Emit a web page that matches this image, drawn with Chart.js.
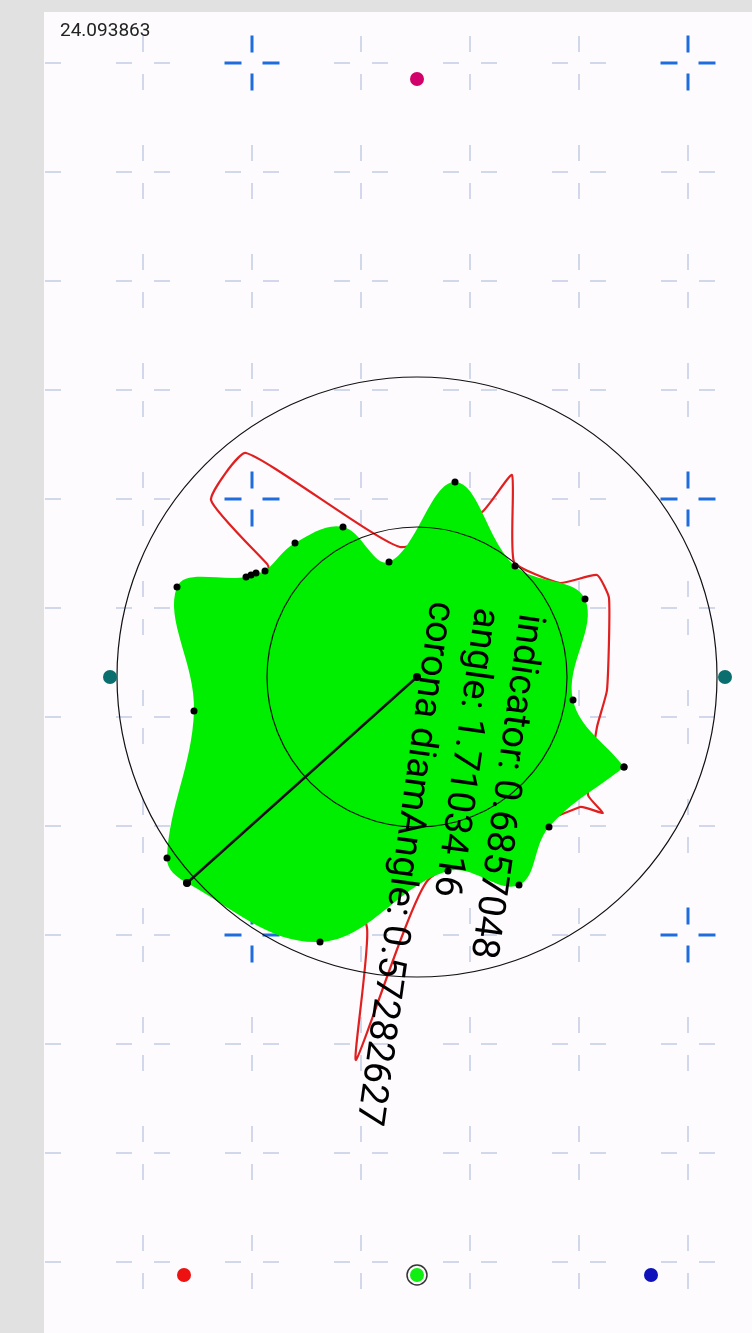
<!DOCTYPE html>
<html><head><meta charset="utf-8">
<script src="https://cdn.jsdelivr.net/npm/chart.js@4"></script>
<style>
html,body{margin:0;padding:0;background:#e1e1e1;width:752px;height:1333px;overflow:hidden}
#wrap{position:absolute;left:44px;top:12px;width:708px;height:1321px;background:#fdfbfd}
canvas{display:block}
</style></head><body>
<div id="wrap"><canvas id="c"></canvas></div>
<script>
// ---- data (chart units) ----
const gridX = [34, 143, 252, 361, 470, 579, 688];
const gridY = [63, 172, 281, 390, 499, 608, 717, 826, 935, 1044, 1153, 1262];
const blueX = [252, 688];
const blueY = [63, 499, 935];

const blobX = [624, 549, 519, 448, 320, 187, 167, 194, 177, 246, 251, 256, 265, 295, 343, 389, 455, 515, 585, 573, 624];
const blobY = [767, 827, 885, 871, 942, 883, 858, 711, 587, 577, 575, 573, 571, 543, 527, 562, 482, 566, 599, 700, 767];

const redX = [268, 211, 246, 400, 482, 512, 514, 560, 597, 609, 607, 597, 588, 603, 580, 428, 356, 367, 300, 268];
const redY = [565, 500, 453, 547, 512, 475, 562, 583, 575, 598, 690, 727, 795, 813, 807, 880, 1060, 928, 700, 565];

const centre = [417, 677];
const needleEnd = [187, 883];
const ringRadii = [300, 150];

const topDot = [417, 79];
const sideDotX = [110, 725];
const sideDotY = 677;
const footX = [184, 417, 651];
const footY = 1275;
const footColors = ['#ee1111', '#11ee11', '#1111bb'];

const cornerValue = '24.093863';
const rotAngle = 1.7103416;
const infoLines = ['indicator: 0.6857048', 'angle: 1.7103416', 'corona diamAngle: 0.57282627'];

// ---- build datasets ----
function arms(xs, ys, horizontal, off) {
  const out = [];
  xs.forEach(cx => ys.forEach(cy => {
    if (horizontal) { out.push({x: cx - off, y: cy}); out.push({x: cx + off, y: cy}); }
    else { out.push({x: cx, y: cy - off}); out.push({x: cx, y: cy + off}); }
  }));
  return out;
}
const blobPts = blobX.map((x, i) => ({x, y: blobY[i]}));
const redPts = redX.map((x, i) => ({x, y: redY[i]}));

const pxPerUnit = c => {
  const s = c.chart.scales.x;
  return s.getPixelForValue(1) - s.getPixelForValue(0);
};

const textPlugin = {
  id: 'texts',
  afterDatasetsDraw(chart) {
    const {ctx, scales: {x, y}} = chart;
    ctx.save();
    ctx.fillStyle = '#222';
    ctx.font = '19px Roboto';
    ctx.textBaseline = 'alphabetic';
    ctx.fillText(cornerValue, x.getPixelForValue(60), y.getPixelForValue(36));
    ctx.translate(x.getPixelForValue(centre[0]), y.getPixelForValue(centre[1]));
    ctx.rotate(rotAngle);
    ctx.fillStyle = '#000';
    ctx.font = '38px Roboto';
    infoLines.forEach((t, i) => ctx.fillText(t, -78, -93 + 45 * i));
    ctx.restore();
  }
};

const faint = 'rgba(175,190,222,0.75)';
const blue = '#1f6ddc';

new Chart(document.getElementById('c'), {
  type: 'scatter',
  data: {
    datasets: [
      {data: arms(gridX, gridY, true, 19), pointStyle: 'line', pointRadius: 8, pointRotation: 0, pointBorderColor: faint, pointBorderWidth: 1.5, order: 20},
      {data: arms(gridX, gridY, false, 19), pointStyle: 'line', pointRadius: 8, pointRotation: 90, pointBorderColor: faint, pointBorderWidth: 1.5, order: 20},
      {data: arms(blueX, blueY, true, 19), pointStyle: 'line', pointRadius: 8.5, pointRotation: 0, pointBorderColor: blue, pointBorderWidth: 3, order: 19},
      {data: arms(blueX, blueY, false, 19), pointStyle: 'line', pointRadius: 8.5, pointRotation: 90, pointBorderColor: blue, pointBorderWidth: 3, order: 19},
      {data: redPts, showLine: true, borderColor: '#e02020', borderWidth: 2.2, tension: 0.15, pointRadius: 0, fill: false, order: 18},
      {data: blobPts, showLine: true, borderWidth: 0, borderColor: 'rgba(0,0,0,0)', backgroundColor: '#00ee00', fill: 'shape', tension: 0.38,
       pointRadius: 3.5, pointBackgroundColor: '#000', pointBorderWidth: 0, order: 17},
      {data: ringRadii.map(() => ({x: centre[0], y: centre[1]})), pointRadius: c => ringRadii[c.dataIndex] * pxPerUnit(c),
       pointBackgroundColor: 'rgba(0,0,0,0)', pointBorderColor: '#111', pointBorderWidth: 1.2, order: 16},
      {data: [{x: centre[0], y: centre[1]}, {x: needleEnd[0], y: needleEnd[1]}], showLine: true, borderColor: '#111', borderWidth: 2.5,
       pointRadius: 4, pointBackgroundColor: '#000', pointBorderWidth: 0, order: 15},
      {data: [{x: topDot[0], y: topDot[1]}], pointRadius: 7, pointBackgroundColor: '#d2006a', pointBorderWidth: 0, order: 14},
      {data: sideDotX.map(x => ({x, y: sideDotY})), pointRadius: 7, pointBackgroundColor: '#0b6e6e', pointBorderWidth: 0, order: 14},
      {data: footX.map(x => ({x, y: footY})), pointRadius: 7, pointBackgroundColor: footColors, pointBorderWidth: 0, order: 14},
      {data: [{x: footX[1], y: footY}], pointRadius: 10, pointBackgroundColor: 'rgba(0,0,0,0)', pointBorderColor: '#333', pointBorderWidth: 1.5, order: 13}
    ]
  },
  options: {
    responsive: true, maintainAspectRatio: false, animation: false, events: [],
    layout: {padding: 0, autoPadding: false},
    plugins: {legend: {display: false}, tooltip: {enabled: false}},
    scales: {
      x: {type: 'linear', min: 44, max: 752, display: false},
      y: {type: 'linear', min: 12, max: 1333, reverse: true, display: false}
    }
  },
  plugins: [textPlugin]
});
</script>
</body></html>
